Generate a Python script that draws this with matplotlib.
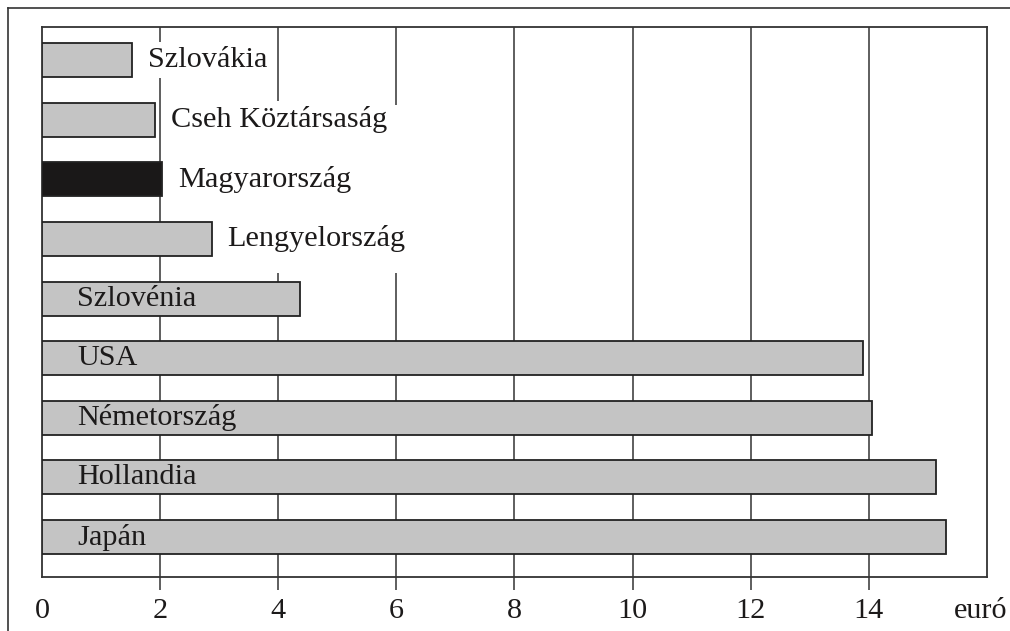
import matplotlib
matplotlib.use("Agg")
import matplotlib.pyplot as plt
from matplotlib.lines import Line2D
from matplotlib.patches import Rectangle

countries = ["Szlovákia", "Cseh Köztársaság", "Magyarország", "Lengyelország",
             "Szlovénia", "USA", "Németország", "Hollandia", "Japán"]
values = [1.52, 1.92, 2.04, 2.87, 4.37, 13.9, 14.06, 15.13, 15.30]
label_outside = [True, True, True, True, False, False, False, False, False]
highlight = "Magyarország"
xtick_vals = [0, 2, 4, 6, 8, 10, 12, 14]
xtick_labels = ["0", "2", "4", "6", "8", "10", "12", "14"]
unit_label = "euró"

plt.rcParams['font.family'] = ['Liberation Serif', 'DejaVu Serif']
FS = 21.8
INK = "#1c1a1a"

fig = plt.figure(figsize=(10.10, 6.31), dpi=100)
ax = fig.add_axes([0.0416, 0.0856, 0.9356, 0.8716])

# outer frame (top & left only)
fig.add_artist(Line2D([0.0079, 0.0079], [0.0, 0.9873], transform=fig.transFigure,
                      color="#333333", lw=1.2))
fig.add_artist(Line2D([0.0079, 1.0], [0.9873, 0.9873], transform=fig.transFigure,
                      color="#333333", lw=1.2))

ypos = list(range(len(countries)))
colors = ["#1a1818" if c == highlight else "#c4c4c4" for c in countries]
ax.barh(ypos, values, height=0.57, color=colors, edgecolor="#222222",
        linewidth=1.3, zorder=3)

# vertical grid lines
for xv in xtick_vals[1:]:
    ax.axvline(xv, color="#333333", lw=1.1, zorder=1)

# white background behind the grouped outside labels
ax.add_patch(Rectangle((2.2, 0.75), 4.3, 2.82, facecolor="white",
                       edgecolor="none", zorder=2))

for i, (c, v, out) in enumerate(zip(countries, values, label_outside)):
    if out:
        ax.text(v + 0.27, i, c, fontsize=FS, color=INK, va="center", ha="left",
                zorder=4,
                bbox=dict(facecolor="white", edgecolor="none", pad=4))
    else:
        ax.text(0.6, i, c, fontsize=FS, color=INK, va="center", ha="left",
                zorder=4)

ax.set_xlim(0, 16)
ax.set_ylim(8.67, -0.554)
ax.set_yticks([])
ax.set_xticks(xtick_vals)
ax.set_xticklabels(xtick_labels, fontsize=FS, color=INK)
ax.tick_params(axis="x", direction="out", length=9.4, width=1.1,
               color="#333333", pad=6)
ax.xaxis.get_major_ticks()[0].tick1line.set_visible(False)

# unit label at the end of the axis, aligned with the tick labels
fig.canvas.draw()
tl = ax.get_xticklabels()[-1]
ty = tl.get_position()[1]
lab = ax.text(1.0, 0, unit_label, fontsize=FS, color=INK, ha="right",
              va=tl.get_va(), transform=tl.get_transform())
lab.set_position((1.0, ty))
lab.set_transform(matplotlib.transforms.blended_transform_factory(
    fig.transFigure, tl.get_transform()))
lab.set_x(0.997)

for s in ax.spines.values():
    s.set_color("#333333")
    s.set_linewidth(1.3)

fig.savefig("out.png", dpi=100, facecolor="white")
